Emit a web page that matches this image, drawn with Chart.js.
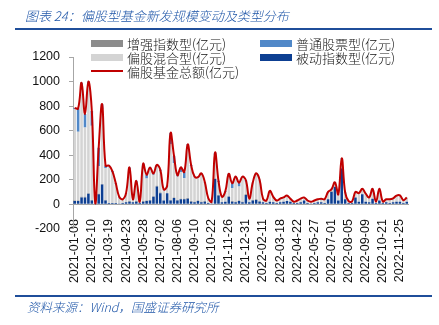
<!DOCTYPE html>
<html>
<head>
<meta charset="utf-8">
<script src="https://cdn.jsdelivr.net/npm/chart.js@4.4.1/dist/chart.umd.min.js"></script>
<style>
  body { margin: 0; background: #fff; }
  #wrap { position: relative; width: 439px; height: 325px; overflow: hidden; background: #fff; }
  #chart { position: absolute; left: 0; top: 0; }
  .title { position: absolute; left: 25px; top: 6px; font: italic 300 13px "Noto Sans CJK SC", sans-serif; color: #1f56a8; white-space: nowrap; }
  .rule { position: absolute; left: 15px; width: 417px; height: 2px; background: #1f4e9a; }
  .source { position: absolute; left: 27px; top: 295px; font: italic 300 12.5px "Noto Sans CJK SC", sans-serif; color: #1f56a8; white-space: nowrap; }
  #legend { position: absolute; left: 91px; top: 36px; display: grid; grid-template-columns: 169px auto; grid-auto-rows: 14px; font: 300 13px "Noto Sans CJK SC", sans-serif; color: #111; }
  #legend .item { display: flex; align-items: center; white-space: nowrap; }
  #legend .swatch { width: 32px; height: 7px; margin-right: 4px; }
  #legend .lineswatch { width: 32px; height: 2px; margin-right: 4px; }
</style>
</head>
<body>
<div id="wrap">
  <canvas id="chart" width="439" height="325"></canvas>
  <div class="title">图表 24：偏股型基金新发规模变动及类型分布</div>
  <div class="rule" style="top:28px"></div>
  <div id="legend"></div>
  <div class="rule" style="top:295px;height:2px"></div>
  <div class="source" style="top:297px">资料来源：Wind，国盛证券研究所</div>
</div>
<script>
// weekly issue dates
const weeks = [
  "2021-01-08","2021-01-15","2021-01-22","2021-01-29","2021-02-05","2021-02-10","2021-02-19","2021-02-26","2021-03-05","2021-03-12",
  "2021-03-19","2021-03-26","2021-04-02","2021-04-09","2021-04-16","2021-04-23","2021-04-30","2021-05-07","2021-05-14","2021-05-21",
  "2021-05-28","2021-06-04","2021-06-11","2021-06-18","2021-06-25","2021-07-02","2021-07-09","2021-07-16","2021-07-23","2021-07-30",
  "2021-08-06","2021-08-13","2021-08-20","2021-08-27","2021-09-03","2021-09-10","2021-09-17","2021-09-24","2021-10-08","2021-10-15",
  "2021-10-22","2021-10-29","2021-11-05","2021-11-12","2021-11-19","2021-11-26","2021-12-03","2021-12-10","2021-12-17","2021-12-24",
  "2021-12-31","2022-01-07","2022-01-14","2022-01-21","2022-01-28","2022-02-11","2022-02-18","2022-02-25","2022-03-04","2022-03-11",
  "2022-03-18","2022-03-25","2022-04-01","2022-04-08","2022-04-15","2022-04-22","2022-04-29","2022-05-06","2022-05-13","2022-05-20",
  "2022-05-27","2022-06-02","2022-06-10","2022-06-17","2022-06-24","2022-07-01","2022-07-08","2022-07-15","2022-07-22","2022-07-29",
  "2022-08-05","2022-08-12","2022-08-19","2022-08-26","2022-09-02","2022-09-09","2022-09-16","2022-09-23","2022-09-30","2022-10-14",
  "2022-10-21","2022-10-28","2022-11-04","2022-11-11","2022-11-18","2022-11-25","2022-12-02","2022-12-09"
];

// 亿元
const passive = [
  25,25,55,55,85,30,5,80,160,30, 10,10,10,5,10,15,20,15,20,10,
  20,25,30,60,145,90,30,90,30,50, 30,40,40,45,20,15,25,15,20,10,
  5,205,70,15,20,60,20,15,25,15, 75,15,30,35,20,15,10,20,15,10,
  15,20,25,20,10,10,15,30,10,5, 10,15,15,10,40,100,140,30,290,40,
  10,10,55,20,80,20,15,45,10,30, 10,15,10,15,20,20,10,20
];
const enhanced = [
  5,5,5,5,5,5,0,5,5,5, 0,0,0,0,0,0,5,0,5,0,
  5,5,5,5,5,5,0,0,5,5, 5,5,5,5,5,5,5,5,5,0,
  0,5,5,0,0,5,5,5,5,5, 5,0,5,5,5,0,0,0,0,0,
  0,0,0,0,0,0,0,0,0,0, 0,0,0,0,0,5,5,0,5,0,
  0,0,0,0,0,0,0,0,0,0, 0,0,0,0,0,0,0,0
];
const mixed = [
  745,560,870,565,870,605,5,225,610,260, 295,250,155,50,30,70,255,25,135,10,
  265,180,245,175,160,175,85,55,455,280, 190,215,167,428,285,200,185,227,151,40,
  15,190,105,45,80,173,105,195,115,195, 105,30,135,202,170,30,20,83,45,20,
  30,35,40,25,10,20,30,25,20,15, 20,25,30,30,55,15,28,50,70,50,
  15,12,40,70,40,65,40,75,10,90, 12,25,30,33,50,52,22,35
];
const stock = [
  10,190,60,110,40,120,0,150,40,20, 10,10,5,5,0,5,20,0,30,0,
  40,30,20,10,10,10,5,5,90,60, 10,40,50,10,10,5,5,5,5,0,
  0,20,10,0,5,10,40,10,30,10, 10,0,5,10,5,0,0,5,0,0,
  0,0,5,0,0,0,0,0,0,0, 0,0,0,0,5,5,5,0,10,5,
  0,0,5,0,5,0,0,5,0,5, 0,0,0,0,0,0,0,0
];
const totalFund = [
  785,780,990,735,1000,760,10,460,815,315, 315,270,170,60,40,90,300,40,190,20,
  330,240,300,250,320,280,120,150,580,395, 235,300,262,488,320,225,220,252,181,50,
  20,420,190,60,105,248,170,225,175,225, 195,45,175,252,200,45,30,108,60,30,
  45,55,70,45,20,30,45,55,30,20, 30,40,45,40,100,120,178,80,375,95,
  25,22,100,90,125,85,55,125,20,125, 22,40,40,48,70,72,32,55
];
const yTicks = [-200, 0, 200, 400, 600, 800, 1000, 1200];

const latin = '"Liberation Sans", Arial, sans-serif';

const chart = new Chart(document.getElementById('chart'), {
  type: 'bar',
  data: {
    labels: weeks,
    datasets: [
      { type: 'line', label: '偏股基金总额(亿元)', data: totalFund, borderColor: '#c00000', borderWidth: 2,
        pointRadius: 0, tension: 0.4, stack: 'total', order: 0 },
      { label: '被动指数型(亿元)', data: passive, backgroundColor: '#0d3f92', stack: 'fund', order: 1 },
      { label: '增强指数型(亿元)', data: enhanced, backgroundColor: '#8c8c8c', stack: 'fund', order: 1 },
      { label: '偏股混合型(亿元)', data: mixed, backgroundColor: '#d4d4d4', stack: 'fund', order: 1 },
      { label: '普通股票型(亿元)', data: stock, backgroundColor: '#5088c8', stack: 'fund', order: 1 }
    ]
  },
  options: {
    responsive: false,
    animation: false,
    layout: { padding: { left: 0, right: 30.5, top: 57, bottom: 96.3 } },
    datasets: { bar: { categoryPercentage: 1, barPercentage: 0.75 } },
    plugins: { legend: { display: false }, tooltip: { enabled: false } },
    scales: {
      x: {
        stacked: true,
        position: { y: 0 },
        grid: { display: false },
        border: { color: '#a6a6a6' },
        ticks: {
          autoSkip: false, minRotation: 90, maxRotation: 90, padding: 7,
          color: '#111', font: { family: latin, size: 12.5 },
          callback: (v, i) => (i % 5 === 0 ? weeks[i] : '')
        }
      },
      y: {
        stacked: true,
        min: -200, max: 1200,
        afterFit: (scale) => { scale.width = 73; },
        afterBuildTicks: (scale) => { scale.ticks = yTicks.map(v => ({ value: v })); },
        grid: { drawOnChartArea: false, drawTicks: true, tickLength: 4, color: '#a6a6a6' },
        border: { color: '#a6a6a6' },
        ticks: { padding: 9, color: '#111', font: { family: latin, size: 12.5 }, callback: (v) => String(v) }
      }
    }
  }
});

// two-column legend in the reference order
const legendOrder = [2, 4, 3, 1, 0];
const legend = document.getElementById('legend');
legendOrder.forEach(idx => {
  const ds = chart.data.datasets[idx];
  const item = document.createElement('div');
  item.className = 'item';
  const sw = document.createElement('span');
  if (ds.type === 'line') {
    sw.className = 'lineswatch';
    sw.style.background = ds.borderColor;
  } else {
    sw.className = 'swatch';
    sw.style.background = ds.backgroundColor;
  }
  item.appendChild(sw);
  item.appendChild(document.createTextNode(ds.label));
  legend.appendChild(item);
});
</script>
</body>
</html>
